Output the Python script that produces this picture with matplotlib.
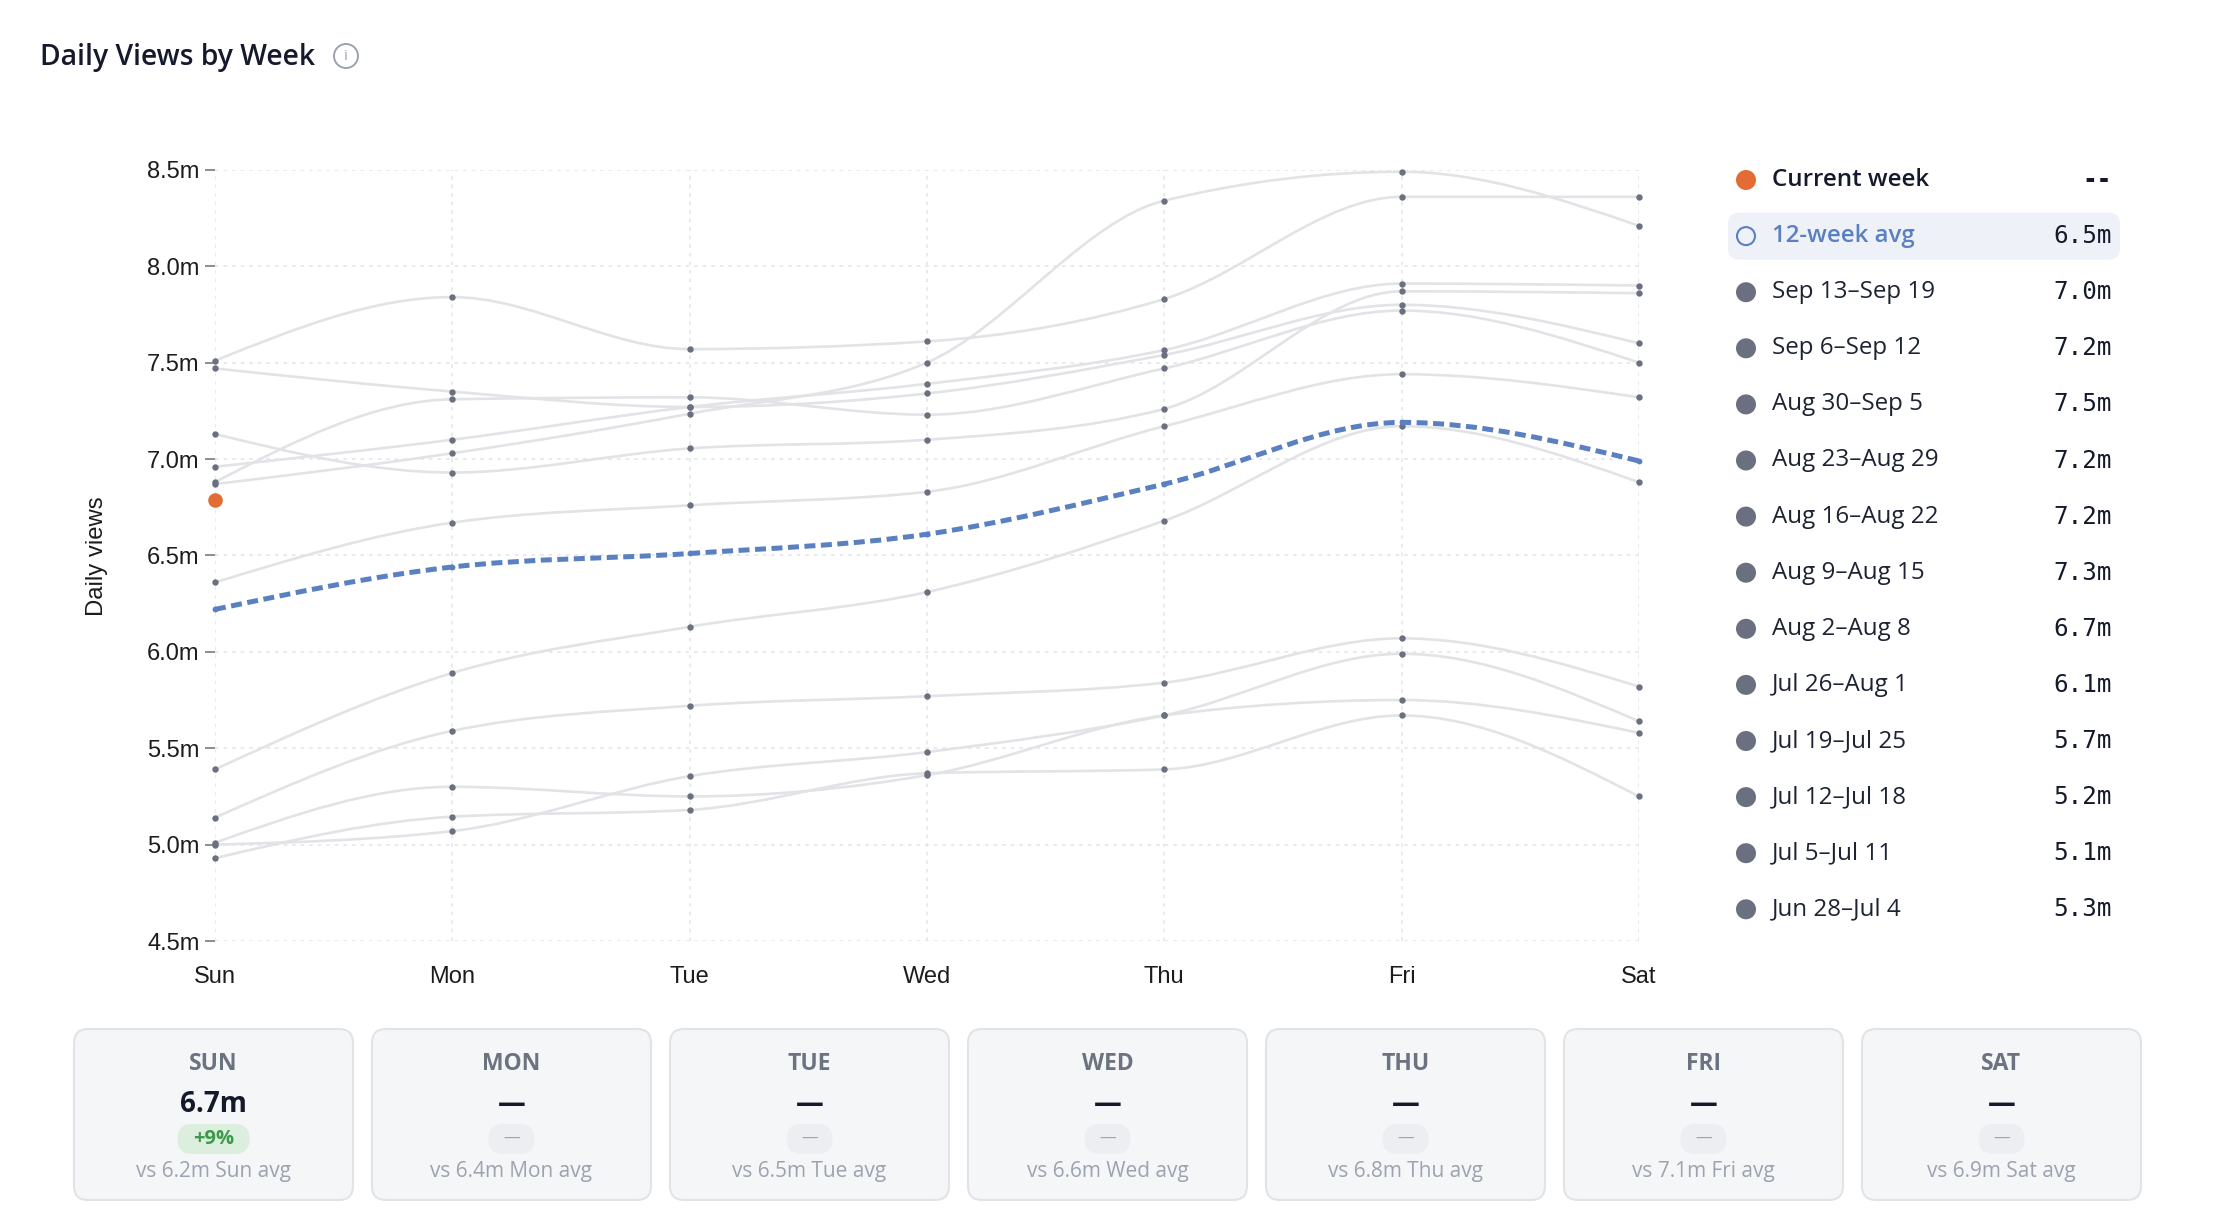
import math
import matplotlib
matplotlib.use("Agg")
import matplotlib.pyplot as plt
from matplotlib.path import Path
from matplotlib.patches import PathPatch, FancyBboxPatch, Circle
import numpy as np

# ---- data ----
days = ["Sun", "Mon", "Tue", "Wed", "Thu", "Fri", "Sat"]

week_labels = ["Sep 13\u2013Sep 19", "Sep 6\u2013Sep 12", "Aug 30\u2013Sep 5",
               "Aug 23\u2013Aug 29", "Aug 16\u2013Aug 22", "Aug 9\u2013Aug 15",
               "Aug 2\u2013Aug 8", "Jul 26\u2013Aug 1", "Jul 19\u2013Jul 25",
               "Jul 12\u2013Jul 18", "Jul 5\u2013Jul 11", "Jun 28\u2013Jul 4"]
week_totals = ["7.0m", "7.2m", "7.5m", "7.2m", "7.2m", "7.3m",
               "6.7m", "6.1m", "5.7m", "5.2m", "5.1m", "5.3m"]

# daily views (millions) of the past 12 weeks, Sun..Sat
past_weeks = [
    [7.51, 7.84, 7.57, 7.61, 7.83, 8.36, 8.36],
    [7.47, 7.35, 7.27, 7.34, 7.54, 7.80, 7.60],
    [6.88, 7.31, 7.32, 7.23, 7.47, 7.77, 7.50],
    [6.96, 7.10, 7.27, 7.39, 7.565, 7.91, 7.90],
    [6.87, 7.03, 7.235, 7.50, 8.34, 8.49, 8.21],
    [7.13, 6.93, 7.055, 7.10, 7.26, 7.87, 7.86],
    [6.36, 6.67, 6.76, 6.83, 7.17, 7.44, 7.32],
    [5.39, 5.89, 6.13, 6.31, 6.68, 7.17, 6.88],
    [5.14, 5.59, 5.72, 5.77, 5.84, 6.07, 5.82],
    [5.01, 5.30, 5.25, 5.36, 5.67, 5.75, 5.58],
    [4.93, 5.145, 5.18, 5.37, 5.39, 5.67, 5.25],
    [5.00, 5.07, 5.355, 5.48, 5.67, 5.99, 5.64],
]
avg_12wk = [6.22, 6.44, 6.51, 6.61, 6.87, 7.19, 6.99]
avg_total = "6.5m"
current_week = [6.79]  # only Sunday so far

# ---- style ----
UI = "Open Sans"
MONO = "DejaVu Sans Mono"
plt.rcParams["font.family"] = ["Liberation Sans", "DejaVu Sans"]

GREY_LINE = "#e2e3e7"
DOT = "#6b7080"
BLUE = "#5a80c2"
ORANGE = "#e36c35"
DARK = "#141a2b"


def monotone_path(xs, ys):
    # smooth curve through the points (same idea as d3 curveMonotoneX)
    n = len(xs)
    t = [0.0] * n
    for i in range(1, n - 1):
        h0 = xs[i] - xs[i - 1]
        h1 = xs[i + 1] - xs[i]
        s0 = (ys[i] - ys[i - 1]) / h0
        s1 = (ys[i + 1] - ys[i]) / h1
        p = (s0 * h1 + s1 * h0) / (h0 + h1)
        t[i] = (np.sign(s0) + np.sign(s1)) * min(abs(s0), abs(s1), 0.5 * abs(p))
    t[0] = (3 * (ys[1] - ys[0]) / (xs[1] - xs[0]) - t[1]) / 2
    t[-1] = (3 * (ys[-1] - ys[-2]) / (xs[-1] - xs[-2]) - t[-2]) / 2
    verts = [(xs[0], ys[0])]
    codes = [Path.MOVETO]
    for i in range(n - 1):
        dx = (xs[i + 1] - xs[i]) / 3.0
        verts += [(xs[i] + dx, ys[i] + dx * t[i]),
                  (xs[i + 1] - dx, ys[i + 1] - dx * t[i + 1]),
                  (xs[i + 1], ys[i + 1])]
        codes += [Path.CURVE4] * 3
    return Path(verts, codes)


fig = plt.figure(figsize=(22.18, 12.28), dpi=100)
fig.patch.set_facecolor("white")

# ---- line chart ----
ax = fig.add_axes([0.0969, 0.2337, 0.642, 0.628])
x = list(range(len(days)))

for vals in past_weeks:
    ax.add_patch(PathPatch(monotone_path(x, vals), fill=False, ec=GREY_LINE,
                           lw=1.9, zorder=2, clip_on=False))
for vals in past_weeks:
    ax.plot(x, vals, "o", color=DOT, ms=4.6, mec="none", zorder=3, clip_on=False)

ax.add_patch(PathPatch(monotone_path(x, avg_12wk), fill=False, ec=BLUE, lw=3.6,
                       linestyle=(0, (2.2, 1.1)), zorder=4, clip_on=False,
                       capstyle="butt"))
ax.plot(x, avg_12wk, "o", color=BLUE, ms=4.2, mec="none", zorder=5, clip_on=False)

ax.plot(x[:len(current_week)], current_week, "o", color=ORANGE, ms=10.5,
        mec="none", zorder=6, clip_on=False)

ax.set_xlim(0, 6)
ax.set_ylim(4.5, 8.5)
yt = np.arange(4.5, 8.51, 0.5)
ax.set_yticks(yt)
ax.set_yticklabels(["%.1fm" % v for v in yt])
ax.set_xticks(x)
ax.set_xticklabels(days)
for s in ax.spines.values():
    s.set_visible(False)
ax.tick_params(axis="y", length=7, width=1.4, color="#8d8d8d", pad=4,
               labelsize=17, labelcolor="#1c1c1c")
ax.tick_params(axis="x", length=0, pad=18, labelsize=17, labelcolor="#1c1c1c")
ax.grid(True, color="#e2e4e8", lw=1.1, linestyle=(0, (2.4, 3.2)))
ax.set_axisbelow(True)

fig.text(97 / 2218, 1 - 556 / 1228, "Daily views", rotation=90, ha="center",
         va="center", fontsize=17.2, color="#1c1c1c")

# ---- overlay in pixel coordinates for title, legend and cards ----
ov = fig.add_axes([0, 0, 1, 1])
ov.set_xlim(0, 2218)
ov.set_ylim(1228, 0)
ov.axis("off")
ov.patch.set_alpha(0)

ov.text(40, 58, "Daily Views by Week", family=UI, weight="semibold",
        fontsize=20.3, color=DARK, ha="left", va="center")
ov.add_patch(Circle((346, 56), 12, fc="none", ec="#9ca3af", lw=1.4))
ov.text(346, 57, "i", family=UI, fontsize=11, color="#9ca3af",
        ha="center", va="center")

# legend
row_y0 = 180
row_step = 56.1
mark_x = 1746
text_x = 1772
val_x = 2112

ov.add_patch(Circle((mark_x, row_y0), 10, fc=ORANGE, ec="none"))
ov.text(text_x, row_y0, "Current week", family=UI, weight="semibold",
        fontsize=17.4, color=DARK, ha="left", va="center")
ov.text(val_x, row_y0, "--", family=MONO, weight="bold", fontsize=17.5,
        color=DARK, ha="right", va="center")

y1 = row_y0 + row_step
ov.add_patch(FancyBboxPatch((1728, y1 - 23.5), 392, 47,
                            boxstyle="round,pad=0,rounding_size=11",
                            fc="#eef2f8", ec="none"))
ov.add_patch(Circle((mark_x, y1), 9, fc="none", ec=BLUE, lw=1.5))
ov.text(text_x, y1, "12-week avg", family=UI, weight="semibold", fontsize=17.4,
        color=BLUE, ha="left", va="center")
ov.text(val_x, y1, avg_total, family=MONO, fontsize=17.5, color=DARK,
        ha="right", va="center")

for i, (lab, tot) in enumerate(zip(week_labels, week_totals)):
    yy = row_y0 + (i + 2) * row_step
    ov.add_patch(Circle((mark_x, yy), 10, fc=DOT, ec="none"))
    ov.text(text_x, yy, lab, family=UI, fontsize=17.4, color="#1d2333",
            ha="left", va="center")
    ov.text(val_x, yy, tot, family=MONO, fontsize=17.5, color=DARK,
            ha="right", va="center")

# day cards
card_x0 = 74
card_pitch = 298
card_w = 279
card_top = 1029
card_h = 171
for i, d in enumerate(days):
    cx = card_x0 + i * card_pitch
    mid = cx + card_w / 2
    ov.add_patch(FancyBboxPatch((cx, card_top), card_w, card_h,
                                boxstyle="round,pad=0,rounding_size=14",
                                fc="#f5f6f8", ec="#e1e3e6", lw=1.5))
    ov.text(mid, 1064, d.upper(), family=UI, weight="bold", fontsize=16.5,
            color="#6b7280", ha="center", va="center")
    avg_floor = math.floor(avg_12wk[i] * 10 + 1e-9) / 10
    if i < len(current_week):
        cur = current_week[i]
        cur_txt = "%.1fm" % (math.floor(cur * 10 + 1e-9) / 10)
        pct = round((cur / avg_12wk[i] - 1) * 100)
        ov.text(mid, 1104, cur_txt, family=UI, weight="bold", fontsize=20,
                color=DARK, ha="center", va="center")
        ov.add_patch(FancyBboxPatch((mid - 36, 1124), 72, 30,
                                    boxstyle="round,pad=0,rounding_size=15",
                                    fc="#dcefdf", ec="none"))
        ov.text(mid, 1139, "%+d%%" % pct, family=UI, weight="bold",
                fontsize=14.5, color="#3c9a4a", ha="center", va="center")
    else:
        ov.text(mid, 1104, "\u2014", family=UI, weight="bold", fontsize=20,
                color=DARK, ha="center", va="center")
        ov.add_patch(FancyBboxPatch((mid - 23, 1124), 46, 30,
                                    boxstyle="round,pad=0,rounding_size=15",
                                    fc="#eceef2", ec="none"))
        ov.text(mid, 1139, "\u2014", family=UI, fontsize=12,
                color="#9ca3af", ha="center", va="center")
    ov.text(mid, 1171, "vs %.1fm %s avg" % (avg_floor, d), family=UI,
            fontsize=15, color="#9ca3af", ha="center", va="center")

fig.savefig("out.png", dpi=100, facecolor="white")
plt.close(fig)
